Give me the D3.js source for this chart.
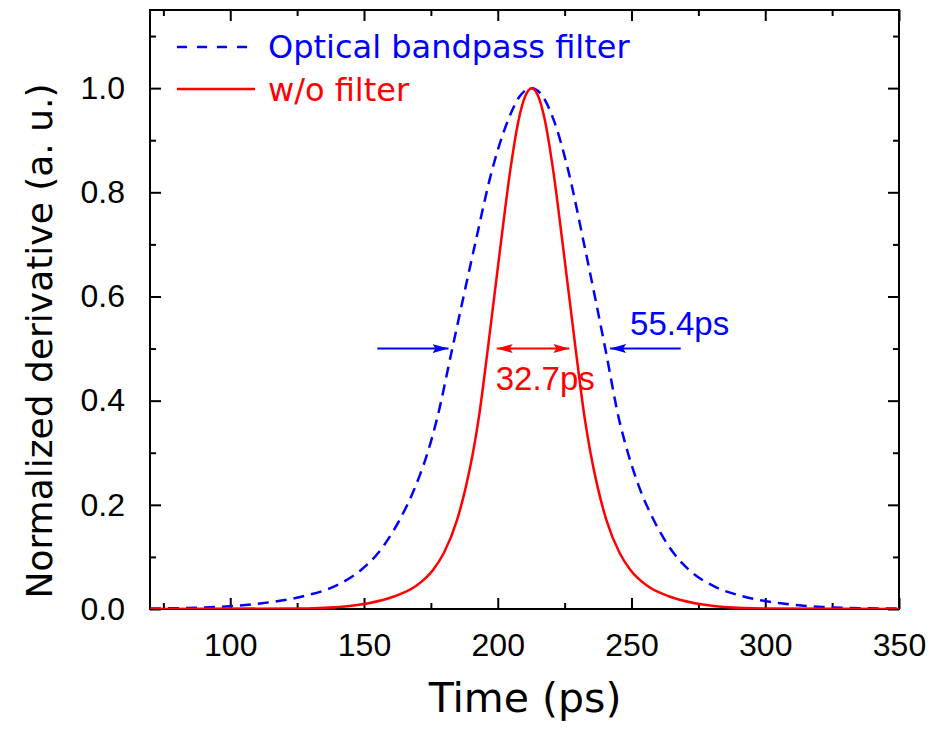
<!DOCTYPE html>
<html>
<head>
<meta charset="utf-8">
<script src="https://cdn.jsdelivr.net/npm/d3@7"></script>
<style>
  html, body { margin: 0; padding: 0; background: #fff; }
  svg { display: block; }
</style>
</head>
<body>
<svg id="chart" width="935" height="730"></svg>
<script>
// ---- Data ----
const seriesNames = ["Optical bandpass filter", "w/o filter"];
const seriesColors = ["#0000ff", "#ff0000"];

// w/o filter (red, solid)
const redTime = [70, 124.7, 140.7, 151.7, 161.2, 169.1, 175.8, 179.8, 184.8, 188.1, 190.7, 192.8, 196.3, 201.1, 204.7, 207.8, 210.3, 212.7, 215.1, 217.6, 220.7, 224.3, 229.1, 232.6, 234.7, 237.3, 240.6, 245.6, 249.6, 256.3, 264.2, 273.7, 284.7, 300.7, 350];
const redValue = [0, 0.001, 0.004, 0.011, 0.024, 0.043, 0.075, 0.107, 0.171, 0.235, 0.299, 0.363, 0.5, 0.70, 0.843, 0.939, 0.985, 1.0, 0.985, 0.939, 0.843, 0.70, 0.5, 0.363, 0.299, 0.235, 0.171, 0.107, 0.075, 0.043, 0.024, 0.011, 0.004, 0.001, 0];

// Optical bandpass filter (blue, dashed)
const blueTime = [70, 72.3, 95.2, 111.8, 126.9, 138.7, 148.9, 155.2, 163.3, 169.2, 173.7, 177.2, 183.0, 191.5, 197.9, 203.9, 208.3, 212.7, 216.7, 220.9, 226.3, 232.3, 240.2, 245.4, 248.7, 252.8, 258.3, 265.8, 271.5, 281.1, 291.9, 305.8, 321.2, 342.3, 350];
const blueValue = [0.0009, 0.001, 0.004, 0.011, 0.024, 0.043, 0.075, 0.107, 0.171, 0.235, 0.299, 0.363, 0.5, 0.70, 0.843, 0.939, 0.985, 1.0, 0.985, 0.939, 0.843, 0.70, 0.5, 0.363, 0.299, 0.235, 0.171, 0.107, 0.075, 0.043, 0.024, 0.011, 0.004, 0.001, 0.0008];

// x ticks
const xMajorTicks = [100, 150, 200, 250, 300, 350];
const xMinorTicks = [75, 125, 175, 225, 275, 325];
const xTickLabels = ["100", "150", "200", "250", "300", "350"];
// y ticks
const yMajorTicks = [0, 0.2, 0.4, 0.6, 0.8, 1.0];
const yMinorTicks = [0.1, 0.3, 0.5, 0.7, 0.9, 1.1];
const yTickLabels = ["0.0", "0.2", "0.4", "0.6", "0.8", "1.0"];

// FWHM annotations
const blueFwhmLabel = "55.4ps";
const redFwhmLabel = "32.7ps";
const blueArrowLeft = [155, 181.6];   // tail -> tip
const blueArrowRight = [268.4, 242];  // tail -> tip
const redArrow = [199.6, 226.8];      // tip <-> tip
const halfLevel = 0.5;

const xTitle = "Time (ps)";
const yTitle = "Normalized derivative (a. u.)";

// ---- Layout ----
const svg = d3.select("#chart");
const L = 150, R = 899, T = 10, B = 609;
const x = d3.scaleLinear().domain([70, 350]).range([L, R]);
const y = d3.scaleLinear().domain([0, 1.15]).range([B, T]);

const tickFont = "'Liberation Sans', Arial, sans-serif";
const titleFont = "'DejaVu Sans', sans-serif";

svg.append("defs").append("clipPath").attr("id", "clip")
  .append("rect").attr("x", L).attr("y", T).attr("width", R - L).attr("height", B - T);

// Axes with inward ticks
function addAxis(axisGen, transform) {
  const g = svg.append("g").attr("transform", transform).call(axisGen);
  g.select(".domain").remove();
  g.selectAll(".tick line").attr("stroke", "#000").attr("stroke-width", 2);
  return g;
}
// bottom
addAxis(d3.axisBottom(x).tickValues(xMajorTicks).tickSize(-11).tickPadding(24)
  .tickFormat((d, i) => xTickLabels[i]), `translate(0,${B})`)
  .selectAll("text").attr("font-family", tickFont).attr("font-size", 32).attr("fill", "#000");
addAxis(d3.axisBottom(x).tickValues(xMinorTicks).tickSize(-6).tickFormat(""), `translate(0,${B})`);
// top
addAxis(d3.axisTop(x).tickValues(xMajorTicks).tickSize(-11).tickFormat(""), `translate(0,${T})`);
addAxis(d3.axisTop(x).tickValues(xMinorTicks).tickSize(-6).tickFormat(""), `translate(0,${T})`);
// left
addAxis(d3.axisLeft(y).tickValues(yMajorTicks).tickSize(-11).tickPadding(25)
  .tickFormat((d, i) => yTickLabels[i]), `translate(${L},0)`)
  .selectAll("text").attr("font-family", tickFont).attr("font-size", 32).attr("fill", "#000");
addAxis(d3.axisLeft(y).tickValues(yMinorTicks).tickSize(-6).tickFormat(""), `translate(${L},0)`);
// right
addAxis(d3.axisRight(y).tickValues(yMajorTicks).tickSize(-11).tickFormat(""), `translate(${R},0)`);
addAxis(d3.axisRight(y).tickValues(yMinorTicks).tickSize(-6).tickFormat(""), `translate(${R},0)`);

// frame
svg.append("rect").attr("x", L).attr("y", T).attr("width", R - L).attr("height", B - T)
  .attr("fill", "none").attr("stroke", "#000").attr("stroke-width", 2);

// curves
const line = d3.line().x(d => x(d[0])).y(d => y(d[1])).curve(d3.curveMonotoneX);
const blueData = blueTime.map((t, i) => [t, blueValue[i]]);
const redData = redTime.map((t, i) => [t, redValue[i]]);
const plot = svg.append("g").attr("clip-path", "url(#clip)");
plot.append("path").datum(blueData).attr("d", line).attr("fill", "none")
  .attr("stroke", seriesColors[0]).attr("stroke-width", 2.5).attr("stroke-dasharray", "11,7");
plot.append("path").datum(redData).attr("d", line).attr("fill", "none")
  .attr("stroke", seriesColors[1]).attr("stroke-width", 2.5);

// arrow markers
const defs = svg.select("defs");
function marker(id, color) {
  defs.append("marker").attr("id", id).attr("viewBox", "0 0 16 10")
    .attr("refX", 16).attr("refY", 5).attr("markerWidth", 16).attr("markerHeight", 10)
    .attr("markerUnits", "userSpaceOnUse").attr("orient", "auto-start-reverse")
    .append("path").attr("d", "M0,0.5 L16,5 L0,9.5 L3,5 Z").attr("fill", color);
}
marker("arrBlue", seriesColors[0]);
marker("arrRed", seriesColors[1]);

const yh = y(halfLevel);
[blueArrowLeft, blueArrowRight].forEach(a => {
  svg.append("line").attr("x1", x(a[0])).attr("x2", x(a[1])).attr("y1", yh).attr("y2", yh)
    .attr("stroke", seriesColors[0]).attr("stroke-width", 2).attr("marker-end", "url(#arrBlue)");
});
svg.append("line").attr("x1", x(redArrow[0])).attr("x2", x(redArrow[1])).attr("y1", yh).attr("y2", yh)
  .attr("stroke", seriesColors[1]).attr("stroke-width", 2)
  .attr("marker-start", "url(#arrRed)").attr("marker-end", "url(#arrRed)");

svg.append("text").attr("x", x(blueArrowRight[1]) + 20).attr("y", yh - 14)
  .attr("font-family", tickFont).attr("font-size", 33).attr("fill", seriesColors[0]).text(blueFwhmLabel);
svg.append("text").attr("x", x(redArrow[0]) - 1).attr("y", yh + 41)
  .attr("font-family", tickFont).attr("font-size", 33).attr("fill", seriesColors[1]).text(redFwhmLabel);

// legend
const lg = svg.append("g");
lg.append("line").attr("x1", 177).attr("x2", 250).attr("y1", 47).attr("y2", 47)
  .attr("stroke", seriesColors[0]).attr("stroke-width", 2.5).attr("stroke-dasharray", "10,10");
lg.append("text").attr("x", 268).attr("y", 58).attr("font-family", titleFont).attr("font-size", 32)
  .attr("fill", seriesColors[0]).text(seriesNames[0]);
lg.append("line").attr("x1", 177).attr("x2", 255).attr("y1", 89).attr("y2", 89)
  .attr("stroke", seriesColors[1]).attr("stroke-width", 2.5);
lg.append("text").attr("x", 268).attr("y", 101).attr("font-family", titleFont).attr("font-size", 32)
  .attr("fill", seriesColors[1]).text(seriesNames[1]);

// axis titles
svg.append("text").attr("x", 525).attr("y", 712).attr("text-anchor", "middle")
  .attr("font-family", titleFont).attr("font-size", 41).attr("fill", "#000").text(xTitle);
svg.append("text").attr("transform", "translate(52,341) rotate(-90)").attr("text-anchor", "middle")
  .attr("font-family", titleFont).attr("font-size", 36).attr("fill", "#000").text(yTitle);
</script>
</body>
</html>
